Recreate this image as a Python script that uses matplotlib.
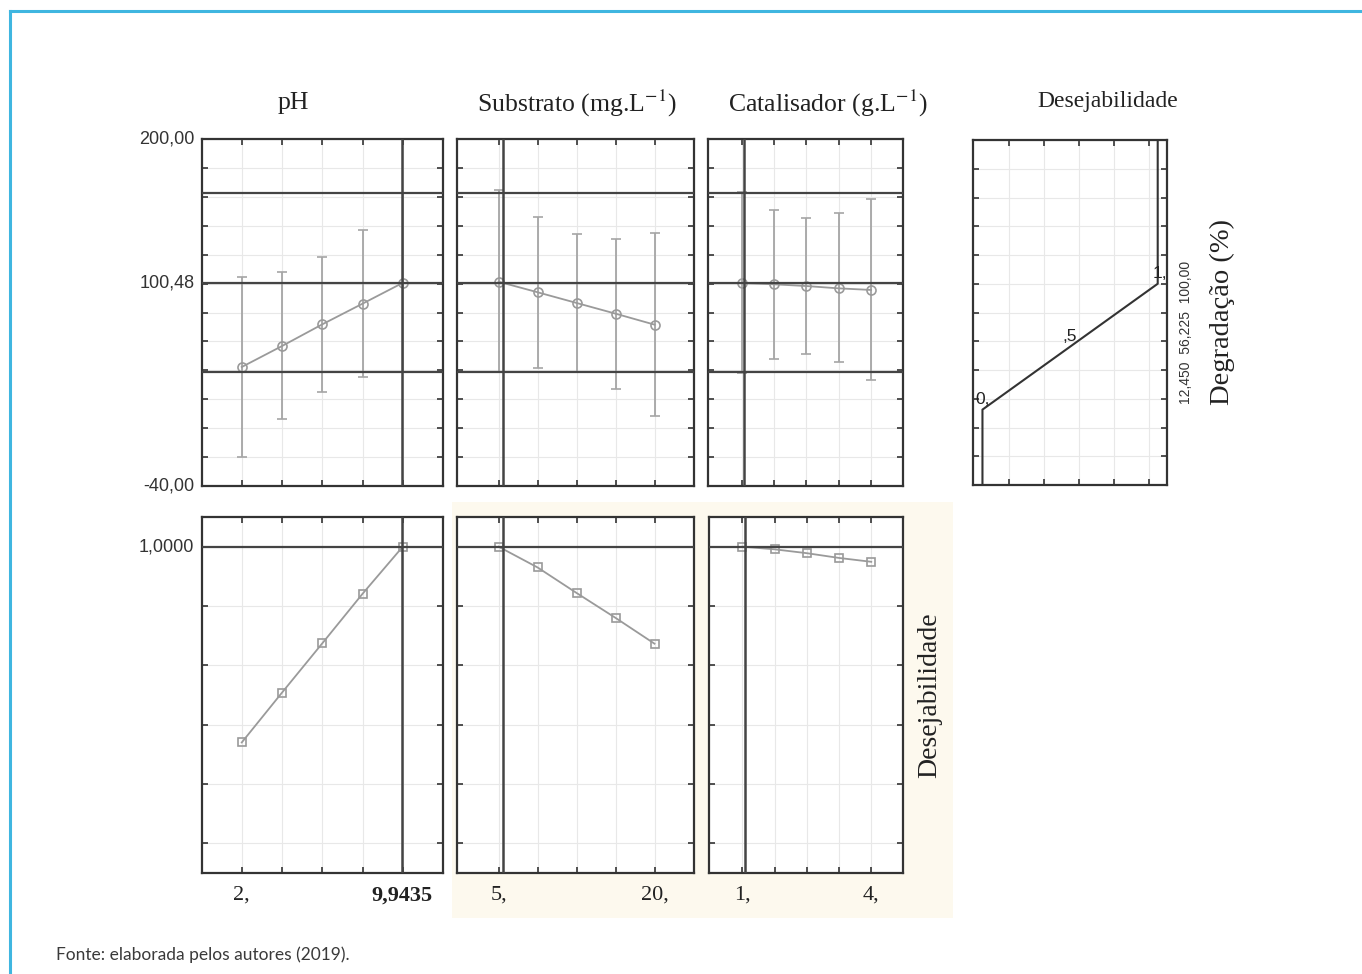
import matplotlib
matplotlib.use("Agg")
import matplotlib.pyplot as plt
import numpy as np
from matplotlib.patches import Rectangle
from matplotlib.lines import Line2D

W, H = 1362, 974

# niveis e respostas previstas (Degradação %)
ph_levels = [2, 4, 6, 8, 10]
ph_pred = [42.3, 56.8, 71.8, 86.1, 100.5]
ph_hi = [104.8, 108.0, 118.4, 137.3, 162.7]
ph_lo = [-19.7, 6.4, 25.2, 35.6, 38.8]

sub_levels = [5, 8.75, 12.5, 16.25, 20]
sub_pred = [101.3, 94.0, 86.6, 79.2, 71.6]
sub_hi = [164.7, 145.8, 134.1, 131.0, 134.8]
sub_lo = [39.1, 41.6, 39.1, 26.9, 8.4]

cat_levels = [1, 1.75, 2.5, 3.25, 4]
cat_pred = [100.4, 99.5, 98.3, 96.7, 95.6]
cat_hi = [163.1, 150.9, 145.1, 148.6, 158.3]
cat_lo = [38.4, 47.9, 51.1, 45.6, 33.1]

# desejabilidade
ph_d = [0.340, 0.508, 0.674, 0.841, 1.0]
sub_d = [1.0, 0.930, 0.844, 0.760, 0.673]
cat_d = [1.0, 0.991, 0.978, 0.962, 0.949]

# valores atuais
ph_cur, sub_cur, cat_cur = 9.9435, 5.4, 1.05
pred_cur, ci_lo, ci_hi = 100.48, 38.8, 162.7

# funcao de desejabilidade
d_low, d_mid, d_high = 12.45, 56.225, 100.0
d_curve_y = [-40, d_low, d_high, 200]
d_curve_x = [0, 0, 1, 1]

titles = ["pH", "Substrato (mg.L$^{-1}$)", "Catalisador (g.L$^{-1}$)"]
xlims = [(0, 12), (1.0, 23.8), (0.22, 4.74)]
levels = [ph_levels, sub_levels, cat_levels]
preds = [ph_pred, sub_pred, cat_pred]
his = [ph_hi, sub_hi, cat_hi]
los = [ph_lo, sub_lo, cat_lo]
dess = [ph_d, sub_d, cat_d]
curs = [ph_cur, sub_cur, cat_cur]
xlabels = [("2,", 2, "9,9435", ph_cur), ("5,", 5, "20,", 20), ("1,", 1, "4,", 4)]

SPINE = "#333333"
SERIES = "#9a9a9a"
GRID = "#e8e8e8"
SERIF = "Liberation Serif"
SANS = "Liberation Sans"

plt.rcParams["mathtext.fontset"] = "stix"

fig = plt.figure(figsize=(W / 100, H / 100), dpi=100)


def px_axes(x0, y0, x1, y1):
    return fig.add_axes([x0 / W, 1 - y1 / H, (x1 - x0) / W, (y1 - y0) / H])


def style(ax):
    for s in ax.spines.values():
        s.set_color(SPINE)
        s.set_linewidth(1.6)
    ax.tick_params(direction="in", top=True, right=True, length=4, width=1.2,
                   color=SPINE, labelleft=False, labelbottom=False)
    ax.grid(True, color=GRID, lw=0.8)
    ax.set_axisbelow(True)


# fundo creme e moldura azul
fig.patches.append(Rectangle((452 / W, 1 - 918 / H), 501 / W, 416 / H,
                             transform=fig.transFigure, facecolor="#fdf9ee",
                             edgecolor="none", zorder=-5))
fig.lines.append(Line2D([10 / W, 10 / W], [0, 1 - 11 / H], transform=fig.transFigure,
                        color="#3fb6e0", lw=2.2))
fig.lines.append(Line2D([10 / W, 1], [1 - 11 / H, 1 - 11 / H], transform=fig.transFigure,
                        color="#3fb6e0", lw=2.2))

xs = [(201.5, 443), (457, 694), (708, 903)]
title_x = [293, 577, 828]

for i in range(3):
    x0, x1 = xs[i]
    # linha superior: degradacao prevista
    ax = px_axes(x0, 139, x1, 486)
    style(ax)
    ax.set_xlim(*xlims[i])
    ax.set_ylim(-40, 200)
    ax.set_yticks(np.arange(-40, 201, 20))
    ax.set_xticks(levels[i])
    p = np.array(preds[i])
    err = [p - np.array(los[i]), np.array(his[i]) - p]
    ax.errorbar(levels[i], p, yerr=err, fmt="none", ecolor="#a5a5a5",
                elinewidth=1.3, capsize=3.5, capthick=1.2, zorder=2)
    ax.plot(levels[i], p, color=SERIES, lw=1.3, marker="o", ms=6.5,
            mfc="none", mec=SERIES, mew=1.2, zorder=3)
    for yv in (ci_hi, pred_cur, ci_lo):
        ax.axhline(yv, color="#444444", lw=1.6, zorder=4)
    ax.axvline(curs[i], color="#444444", lw=1.8, zorder=4)
    fig.text(title_x[i] / W, 1 - 103 / H, titles[i], family=SERIF, fontsize=18.5,
             ha="center", va="center", color="#222222")
    if i == 0:
        for yv, lab in ((200, "200,00"), (pred_cur, "100,48"), (-40, "-40,00")):
            ax.text(-0.03, yv, lab, transform=ax.get_yaxis_transform(),
                    ha="right", va="center", family=SANS, fontsize=13, color="#333333")

    # linha inferior: desejabilidade
    bx0 = 709 if i == 2 else x0
    axb = px_axes(bx0, 517, x1, 873)
    style(axb)
    axb.set_xlim(*xlims[i])
    axb.set_ylim(-0.1, 1.1)
    axb.set_yticks(np.arange(0, 1.01, 0.2))
    axb.set_xticks(levels[i])
    axb.plot(levels[i], dess[i], color=SERIES, lw=1.3, marker="s", ms=6,
             mfc="none", mec=SERIES, mew=1.2, zorder=3)
    axb.axhline(1.0, color="#444444", lw=1.6, zorder=4)
    axb.axvline(curs[i], color="#444444", lw=1.8, zorder=4)
    if i == 0:
        axb.text(-0.03, 1.0, "1,0000", transform=axb.get_yaxis_transform(),
                 ha="right", va="center", family=SANS, fontsize=13, color="#333333")
    l1, v1, l2, v2 = xlabels[i]
    tr = axb.get_xaxis_transform()
    axb.text(v1, -0.035, l1, transform=tr, ha="center", va="top",
             family=SERIF, fontsize=16, color="#222222")
    axb.text(v2, -0.035, l2, transform=tr, ha="center", va="top",
             family=SERIF, fontsize=16, color="#222222",
             fontweight="bold" if i == 0 else "normal")

# painel da funcao de desejabilidade
axd = px_axes(973, 140, 1167, 485)
style(axd)
axd.set_xlim(-0.054, 1.053)
axd.set_ylim(-40, 200)
axd.set_yticks(np.arange(-40, 201, 20))
axd.set_xticks([0.153, 0.353, 0.551, 0.751, 0.950])
axd.plot(d_curve_x, d_curve_y, color="#333333", lw=1.5, zorder=3)
axd.text(0.0, d_low + 2, "0,", ha="center", va="bottom", family=SANS,
         fontsize=12.5, color="#222222")
axd.text(0.5, (d_low + d_high) / 2 + 2, ",5", ha="center", va="bottom",
         family=SANS, fontsize=12.5, color="#222222")
axd.text(1.01, d_high + 2, "1,", ha="center", va="bottom", family=SANS,
         fontsize=12.5, color="#222222")
fig.text(1108 / W, 1 - 101 / H, "Desejabilidade", family=SERIF, fontsize=17,
         ha="center", va="center", color="#222222")
fig.text(1186 / W, 1 - 332 / H, "12,450  56,225  100,00", family=SANS,
         fontsize=10, rotation=90, ha="center", va="center", color="#333333")
fig.text(1222 / W, 1 - 312 / H, "Degradação (%)", family=SERIF, fontsize=20.5,
         rotation=90, ha="center", va="center", color="#222222")
fig.text(930 / W, 1 - 695 / H, "Desejabilidade", family=SERIF, fontsize=20,
         rotation=90, ha="center", va="center", color="#222222")

fig.text(56 / W, 1 - 955 / H, "Fonte: elaborada pelos autores (2019).",
         family="Lato", fontsize=12.5, ha="left",
         va="center", color="#3a3a3a")

fig.savefig("out.png", dpi=100, facecolor="white")
